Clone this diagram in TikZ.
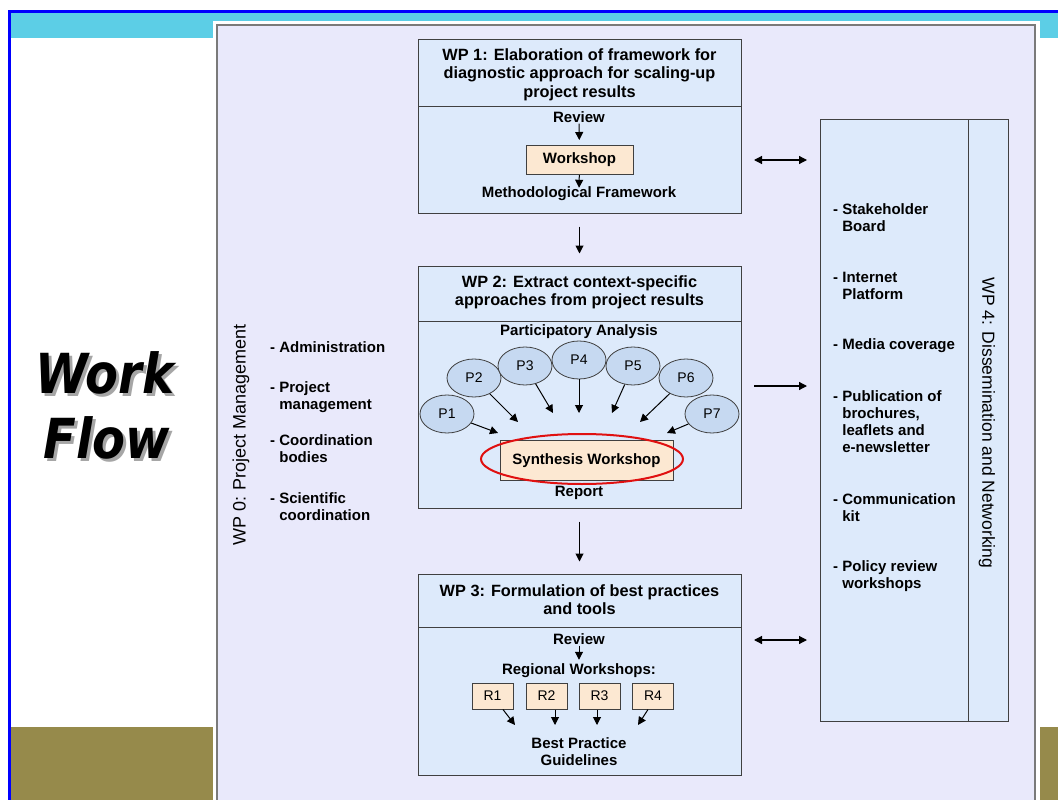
\documentclass[tikz,border=0pt]{standalone}
\usepackage{fontspec}
\usepackage{graphicx}
\setmainfont{Liberation Sans}
\newfontfamily\flowfont{DejaVu Sans}[BoldItalicFont={DejaVu Sans Bold Oblique}]
\usetikzlibrary{arrows.meta,shapes.geometric}

\definecolor{frameblue}{HTML}{0000FF}
\definecolor{cyanband}{HTML}{5CCEE6}
\definecolor{oliveband}{HTML}{968A4B}
\definecolor{panel}{HTML}{E9E9FB}
\definecolor{panelgray}{HTML}{7A7A7A}
\definecolor{pkgfill}{HTML}{DDEAFB}
\definecolor{ellfill}{HTML}{C6D9F1}
\definecolor{peach}{HTML}{FCE8D2}
\definecolor{edge}{HTML}{404040}
\definecolor{ringred}{HTML}{E01010}

\tikzset{
  pkg/.style={draw=edge, fill=pkgfill, line width=1pt, inner sep=0pt},
  ttl/.style={font=\bfseries\fontsize{16.3}{18.5}\selectfont, align=center, inner sep=0pt},
  txt/.style={font=\bfseries\fontsize{15}{17}\selectfont, inner sep=1pt},
  item/.style={txt, anchor=west, align=left},
  wsbox/.style={draw=edge, fill=peach, line width=1pt, txt},
  pe/.style={ellipse, draw=edge, fill=ellfill, line width=0.8pt, minimum width=54pt,
    minimum height=38pt, inner sep=0pt, font=\fontsize{14}{14}\selectfont},
  rbox/.style={draw=edge, fill=peach, line width=1pt, minimum width=41pt,
    minimum height=26pt, inner sep=0pt, font=\fontsize{14}{14}\selectfont},
  arr/.style={-{Triangle[length=8pt,width=8pt]}, line width=1pt},
  darr/.style={{Triangle[length=8pt,width=8pt]}-{Triangle[length=8pt,width=8pt]}, line width=1.2pt},
  side/.style={inner sep=0pt},
  flow/.style={font=\flowfont\bfseries\itshape\fontsize{48}{48}\selectfont, anchor=base, inner sep=0pt},
}

\begin{document}
\begin{tikzpicture}[x=1pt,y=-1pt]
\useasboundingbox (0,0) rectangle (1058,800);
\clip (0,0) rectangle (1058,800);

% slide background: bands and frame
\fill[white] (0,0) rectangle (1058,800);
\fill[cyanband] (11,13) rectangle (1058,38);
\fill[oliveband] (11,727) rectangle (1058,800);
\draw[frameblue, line width=3pt] (9.5,800) -- (9.5,11.5) -- (1058,11.5);

% title with drop shadow
\node[flow, text=black!35] (workshadow) at (108,396) {\scalebox{1}[1.15]{Work}};
\node[flow] (work) at (105,393) {\scalebox{1}[1.15]{Work}};
\node[flow, text=black!35] (flowshadow) at (110,461) {\scalebox{1}[1.15]{Flow}};
\node[flow] (flowword) at (107,458) {\scalebox{1}[1.15]{Flow}};

% diagram panel with a thin white margin
\fill[white] (213,21) rectangle (1040,816);
\fill[panel] (217,25) rectangle (1035,812);
\draw[panelgray, line width=2pt] (217,25) rectangle (1035,812);

% WP 0
\node[side, rotate=90, font=\fontsize{18}{18}\selectfont] (wp0lab) at (241,435) {WP 0: Project Management};
\node[item] (adm) at (269,347) {- Administration};
\node[item] (pm) at (269,397.5) {- Project\\\hphantom{- }management};
\node[item] (cb) at (269,448.5) {- Coordination\\\hphantom{- }bodies};
\node[item] (sc) at (269,506.5) {- Scientific\\\hphantom{- }coordination};

% WP 1
\node[pkg, minimum width=323pt, minimum height=67pt] (wp1t) at (579.5,73) {};
\node[ttl] (wp1title) at (579.5,74.5) {WP 1: Elaboration of framework for\\diagnostic approach for scaling-up\\project results};
\node[pkg, minimum width=323pt, minimum height=107pt] (wp1b) at (579.5,159.5) {};
\node[txt] (rev1) at (579,117) {Review};
\node[wsbox, minimum width=107pt, minimum height=29pt] (ws1) at (579.5,160) {Workshop};
\node[txt] (meth1) at (579,194) {Methodological Framework};
\draw[arr, shorten >=5pt] (rev1) -- (ws1);
\draw[arr, shorten >=-2pt] (ws1) -- (meth1);

% WP 2
\node[pkg, minimum width=323pt, minimum height=55pt] (wp2t) at (579.5,293.5) {};
\node[ttl] (wp2title) at (579.5,292.5) {WP 2: Extract context-specific\\approaches from project results};
\node[pkg, minimum width=323pt, minimum height=187pt] (wp2b) at (579.5,414.5) {};
\node[txt] (pa) at (579,332) {Participatory Analysis};
\node[pe] (p2) at (474,378) {P2};
\node[pe] (p6) at (686,378) {P6};
\node[pe] (p3) at (525,366) {P3};
\node[pe] (p5) at (633,366) {P5};
\node[pe] (p4) at (579,360) {P4};
\node[pe] (p1) at (447,414) {P1};
\node[pe] (p7) at (712,414) {P7};
\coordinate (t1) at (498,433);
\coordinate (t2) at (518,422);
\coordinate (t3) at (553,413);
\coordinate (t4) at (579,413);
\coordinate (t5) at (612,413);
\coordinate (t6) at (640,422);
\coordinate (t7) at (667,433);
\foreach \i in {1,...,7} \draw[arr] (p\i) -- (t\i);
\node[wsbox, minimum width=173pt, minimum height=40pt] (syn) at (586.5,460.5) {Synthesis Workshop};
\node[draw=ringred, line width=2pt, ellipse, minimum width=202pt, minimum height=50pt, inner sep=0pt] (ring) at (582,459) {};
\node[txt] (rep) at (579,493) {Report};

% WP 3
\node[pkg, minimum width=323pt, minimum height=53pt] (wp3t) at (579.5,600.5) {};
\node[ttl] (wp3title) at (579.5,599.5) {WP 3: Formulation of best practices\\and tools};
\node[pkg, minimum width=323pt, minimum height=148pt] (wp3b) at (579.5,701) {};
\node[txt] (rev3) at (579,639) {Review};
\node[txt] (reg) at (579,671) {Regional Workshops:};
\draw[arr, shorten >=3pt] (rev3) -- (reg);
\node[rbox] (r1) at (492.5,696) {R1};
\node[rbox] (r2) at (546.5,696) {R2};
\node[rbox] (r3) at (599.5,696) {R3};
\node[rbox] (r4) at (653,696) {R4};
\coordinate (u1) at (515,725);
\coordinate (u2) at (555,725);
\coordinate (u3) at (597,725);
\coordinate (u4) at (638,725);
\draw[arr] (r1) -- (u1);
\draw[arr] (r2.south -| u2) -- (u2);
\draw[arr] (r3.south -| u3) -- (u3);
\draw[arr] ([xshift=-5pt]r4.south) -- (u4);
\node[txt, align=center] (bpg) at (579,751.5) {Best Practice\\Guidelines};

% WP 4
\node[pkg, minimum width=148pt, minimum height=602pt] (wp4l) at (894,420) {};
\node[pkg, minimum width=40pt, minimum height=602pt] (wp4r) at (988,420) {};
\node[side, rotate=-90, font=\fontsize{17.5}{17.5}\selectfont] (wp4lab) at (987,423) {WP 4: Dissemination and Networking};
\node[item] (sb) at (832,217.5) {- Stakeholder\\\hphantom{- }Board};
\node[item] (ip) at (832,285.5) {- Internet\\\hphantom{- }Platform};
\node[item] (mc) at (832,346) {- Media coverage};
\node[item] (pub) at (832,421.5) {- Publication of\\\hphantom{- }brochures,\\\hphantom{- }leaflets and\\\hphantom{- }e-newsletter};
\node[item] (ck) at (832,507.5) {- Communication\\\hphantom{- }kit};
\node[item] (prw) at (832,576.5) {- Policy review\\\hphantom{- }workshops};

% links between work packages
\draw[arr] ([yshift=-13pt]wp1b.south) -- ([yshift=12pt]wp2t.north);
\draw[arr] ([yshift=-13pt]wp2b.south) -- ([yshift=12pt]wp3t.north);
\coordinate (a1l) at (754,160);
\coordinate (a1r) at (807,160);
\coordinate (a2l) at (754,386);
\coordinate (a2r) at (807,386);
\coordinate (a3l) at (754,640);
\coordinate (a3r) at (807,640);
\draw[darr] (a1l) -- (a1r);
\draw[arr, line width=1.2pt] (a2l) -- (a2r);
\draw[darr] (a3l) -- (a3r);
\end{tikzpicture}
\end{document}
